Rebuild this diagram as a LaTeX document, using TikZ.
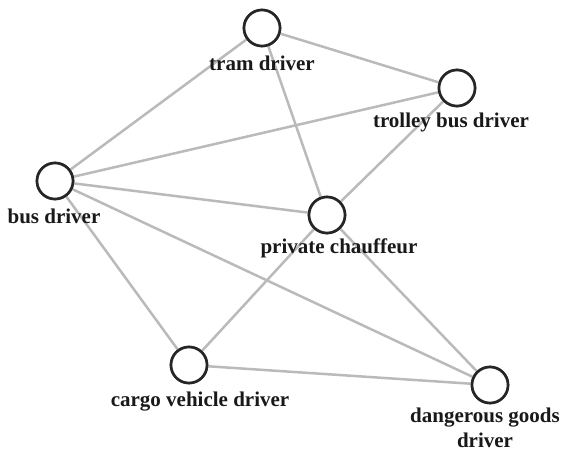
\documentclass[tikz,border=0pt]{standalone}
\usepackage{fontspec}
\setmainfont{Liberation Serif}
\begin{document}
\begin{tikzpicture}[x=1bp,y=-1bp,
  vert/.style={circle,draw=black!85,line width=2.6bp,fill=white,minimum size=36bp,inner sep=0pt},
  lbl/.style={font=\fontsize{21bp}{24.5bp}\selectfont\bfseries,text=black!90,align=center,inner sep=0pt},
  edge/.style={draw=black!27,line width=2.5bp}]
\useasboundingbox (0,0) rectangle (563,454);
\node[vert] (tram) at (262,28) {};
\node[vert] (trol) at (457,88) {};
\node[vert] (bus) at (55,181) {};
\node[vert] (priv) at (327,215) {};
\node[vert] (cargo) at (189,365) {};
\node[vert] (dang) at (490,385) {};
\path[edge] (tram) -- (trol);
\path[edge] (tram) -- (bus);
\path[edge] (tram) -- (priv);
\path[edge] (trol) -- (bus);
\path[edge] (trol) -- (priv);
\path[edge] (bus) -- (priv);
\path[edge] (bus) -- (cargo);
\path[edge] (bus) -- (dang);
\path[edge] (priv) -- (cargo);
\path[edge] (priv) -- (dang);
\path[edge] (cargo) -- (dang);
\node[vert] at (tram) {};
\node[vert] at (trol) {};
\node[vert] at (bus) {};
\node[vert] at (priv) {};
\node[vert] at (cargo) {};
\node[vert] at (dang) {};
\node[lbl] (ltram) at (262,63) {tram driver};
\node[lbl] (ltrol) at (451,122) {trolley bus driver};
\node[lbl] (lbus) at (54,216) {bus driver};
\node[lbl] (lpriv) at (339,248) {private chauffeur};
\node[lbl] (lcargo) at (200,402) {cargo vehicle driver};
\node[lbl] (ldang) at (485,428) {dangerous goods\\driver};
\end{tikzpicture}
\end{document}
